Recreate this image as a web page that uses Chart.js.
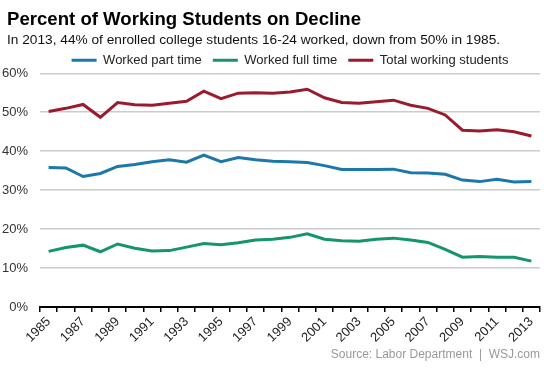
<!DOCTYPE html>
<html>
<head>
<meta charset="utf-8">
<script src="https://cdn.jsdelivr.net/npm/chart.js@4/dist/chart.umd.min.js"></script>
<style>
html,body{margin:0;padding:0;background:#fff;}
#wrap{width:553px;height:369px;position:relative;}
</style>
</head>
<body>
<div id="wrap"><canvas id="c"></canvas></div>
<script>
const years = ['1985','1986','1987','1988','1989','1990','1991','1992','1993','1994','1995','1996','1997','1998','1999','2000','2001','2002','2003','2004','2005','2006','2007','2008','2009','2010','2011','2012','2013'];
const partTime = [35.8,35.7,33.5,34.3,36.1,36.6,37.3,37.8,37.2,39.0,37.3,38.4,37.8,37.4,37.3,37.1,36.3,35.3,35.3,35.3,35.4,34.5,34.4,34.1,32.6,32.2,32.8,32.1,32.2];
const fullTime = [14.3,15.3,15.9,14.2,16.2,15.1,14.4,14.5,15.4,16.3,16.0,16.5,17.2,17.4,17.9,18.8,17.4,17.0,16.9,17.4,17.7,17.2,16.6,14.8,12.8,13.0,12.8,12.8,11.8];
const totalWorking = [50.2,51.0,52.0,48.7,52.5,51.9,51.8,52.3,52.8,55.4,53.5,54.9,55.0,54.9,55.2,55.9,53.7,52.5,52.3,52.7,53.1,51.8,51.0,49.3,45.4,45.2,45.5,45.0,43.9];
const yTicks = [0,10,20,30,40,50,60];
const seriesNames = ['Worked part time','Worked full time','Total working students'];
const colors = ['#1b78a8','#14956a','#9b1b2e'];
const titleText = 'Percent of Working Students on Decline';
const subtitleText = 'In 2013, 44% of enrolled college students 16-24 worked, down from 50% in 1985.';
const sourceText = 'Source: Labor Department  |  WSJ.com';

const FONT = "'Liberation Sans', Arial, sans-serif";
Chart.defaults.font.family = FONT;

const mk = (name, data, col) => ({
  label: name, data: data, borderColor: col, backgroundColor: col,
  borderWidth: 3, pointRadius: 0, pointHoverRadius: 0, tension: 0, fill: false
});

new Chart(document.getElementById('c'), {
  type: 'line',
  data: {
    labels: years,
    datasets: [
      mk(seriesNames[0], partTime, colors[0]),
      mk(seriesNames[1], fullTime, colors[1]),
      mk(seriesNames[2], totalWorking, colors[2])
    ]
  },
  options: {
    responsive: true,
    maintainAspectRatio: false,
    animation: false,
    layout: { padding: { left: 7, right: 13, top: 0, bottom: 7 } },
    plugins: {
      tooltip: { enabled: false },
      title: {
        display: true, text: titleText, align: 'start', color: '#000',
        font: { size: 18.6, weight: 'bold', family: FONT },
        padding: { top: 9, bottom: 1 }
      },
      subtitle: {
        display: true, text: subtitleText, align: 'start', color: '#111',
        font: { size: 13.7, family: FONT },
        padding: { top: 0, bottom: -6 }
      },
      legend: {
        display: true, position: 'top', align: 'center', maxHeight: 30.5, fullSize: false,
        labels: {
          boxWidth: 25, boxHeight: 3, padding: 11, color: '#222',
          font: { size: 13, family: FONT },
          generateLabels: (chart) => Chart.defaults.plugins.legend.labels.generateLabels(chart).map(l => Object.assign(l, { lineWidth: 0 }))
        }
      }
    },
    scales: {
      x: {
        type: 'category',
        offset: true,
        grid: { display: true, drawOnChartArea: false, drawTicks: true, tickLength: 5, color: '#000', lineWidth: 1.5, offset: true },
        border: { display: true, color: '#000', width: 2 },
        ticks: {
          autoSkip: false, maxRotation: 45, minRotation: 45, color: '#222', padding: 2,
          font: { size: 13, family: FONT },
          callback: function(v, i) { return i % 2 === 0 ? years[i] : ''; }
        },
        title: {
          display: true, text: sourceText, align: 'end', color: '#999',
          font: { size: 12, family: FONT }, padding: { top: 0, bottom: 0 }
        }
      },
      y: {
        min: 0, max: 60,
        afterFit: (s) => { s.width = 33; s._computeLabelArea = () => undefined; },
        afterBuildTicks: (s) => { s.ticks = yTicks.map(v => ({ value: v })); },
        grid: { color: '#cccccc', lineWidth: 1.5, drawTicks: false },
        border: { display: false },
        ticks: {
          padding: 12, color: '#333', font: { size: 13, family: FONT },
          callback: (v) => v + '%'
        }
      }
    }
  }
});
</script>
</body>
</html>
